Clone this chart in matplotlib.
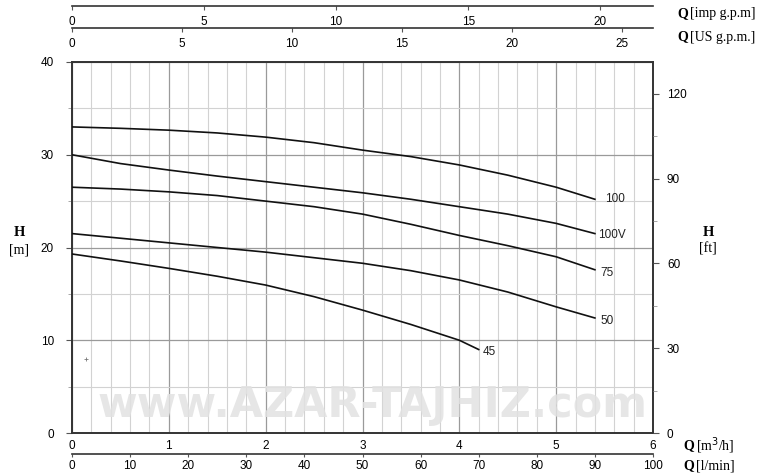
import numpy as np
import matplotlib.pyplot as plt
from matplotlib.ticker import MultipleLocator

plt.rcParams['font.family'] = ['Liberation Sans', 'DejaVu Sans']
plt.rcParams['font.size'] = 8.5

# Pump curves: flow Q [m3/h] vs head H [m]
q_std = [0, 0.5, 1, 1.5, 2, 2.5, 3, 3.5, 4, 4.5, 5, 5.4]
h_100 = [33.0, 32.85, 32.65, 32.35, 31.9, 31.3, 30.5, 29.8, 28.9, 27.8, 26.5, 25.2]
h_100v = [30.0, 29.05, 28.35, 27.7, 27.1, 26.5, 25.9, 25.2, 24.4, 23.6, 22.6, 21.5]
h_75 = [26.5, 26.3, 26.0, 25.6, 25.0, 24.4, 23.6, 22.5, 21.3, 20.2, 19.0, 17.6]
h_50 = [21.5, 21.0, 20.5, 20.0, 19.5, 18.9, 18.3, 17.5, 16.5, 15.2, 13.6, 12.4]
q_45 = [0, 0.5, 1, 1.5, 2, 2.5, 3, 3.5, 4, 4.2]
h_45 = [19.3, 18.55, 17.75, 16.9, 15.95, 14.7, 13.25, 11.7, 10.0, 9.0]

curves = [
    ('100', q_std, h_100, (7, 0)),
    ('100V', q_std, h_100v, (2, -1)),
    ('75', q_std, h_75, (4, -2)),
    ('50', q_std, h_50, (4, -2)),
    ('45', q_45, h_45, (3, -2)),
]

# unit conversion factors from m3/h
IMP_GPM = 1000 / 4.54609 / 60
US_GPM = 1000 / 3.78541 / 60
L_MIN = 1000 / 60
FT = 1 / 0.3048

W, H = 771, 474
fig = plt.figure(figsize=(W / 100, H / 100), dpi=100)

def fx(px):
    return px / W

def fy(py):
    return 1 - py / H

left, right, top, bottom = 72, 653, 62, 433
ax = fig.add_axes([fx(left), fy(bottom), fx(right - left), fy(top) - fy(bottom)])
ax.set_xlim(0, 6)
ax.set_ylim(0, 40)

# grid
ax.xaxis.set_major_locator(MultipleLocator(1))
ax.xaxis.set_minor_locator(MultipleLocator(0.2))
ax.yaxis.set_major_locator(MultipleLocator(10))
ax.yaxis.set_minor_locator(MultipleLocator(5))
ax.grid(which='minor', color='#d2d2d2', lw=0.8)
ax.grid(which='major', color='#9a9a9a', lw=0.9)
ax.set_axisbelow(True)
for s in ax.spines.values():
    s.set_color('#333333')
    s.set_linewidth(1.4)
ax.tick_params(axis='x', which='both', length=0, pad=5)
ax.tick_params(axis='y', which='major', length=4, color='#555555', pad=9)
ax.tick_params(axis='y', which='minor', length=3, color='#999999')
ax.set_xticks(range(0, 7))

# watermark
ax.text(3.1, 3.0, 'www.AZAR-TAJHIZ.com', fontsize=31, fontweight='bold',
        color='#e2e2e2', alpha=0.85, ha='center', va='center', zorder=1,
        family='DejaVu Sans')

for name, q, h, off in curves:
    ax.plot(q, h, color='#111111', lw=1.2, zorder=3)
    ax.annotate(name, (q[-1], h[-1]), xytext=off, textcoords='offset points',
                ha='left', va='center', fontsize=8.5, color='#222222')

ax.plot([0.14], [8.0], marker='+', color='#777777', ms=3, mew=0.6)

# right feet axis
axr = ax.twinx()
axr.set_ylim(0, 40 * FT)
axr.yaxis.set_major_locator(MultipleLocator(30))
axr.yaxis.set_minor_locator(MultipleLocator(15))
axr.tick_params(axis='y', which='major', length=4, color='#555555', pad=6)
axr.tick_params(axis='y', which='minor', length=3, color='#999999')
for s in axr.spines.values():
    s.set_visible(False)

# extra scale axes (lines with ticks only)
def scale_axis(py, factor, ticks, tick_len, label_pad):
    a = fig.add_axes([fx(left), fy(py), fx(right - left), 0.0001])
    a.set_xlim(0, 6 * factor)
    a.set_xticks(ticks)
    a.set_yticks([])
    for k in ('top', 'left', 'right'):
        a.spines[k].set_visible(False)
    a.spines['bottom'].set_color('#333333')
    a.spines['bottom'].set_linewidth(1.2)
    a.tick_params(axis='x', length=tick_len, width=0.8, color='#555555', pad=label_pad)
    a.patch.set_visible(False)
    return a

scale_axis(6, IMP_GPM, [0, 5, 10, 15, 20], 3, 4)
scale_axis(28, US_GPM, [0, 5, 10, 15, 20, 25], 3, 4)
scale_axis(454, L_MIN, list(range(0, 101, 10)), 2, 2)

# unit labels
serif = ['Liberation Serif', 'DejaVu Serif']
def unit(x, y, q, rest, size=10):
    fig.text(fx(x), fy(y), q, fontsize=size, fontweight='bold', family=serif,
             ha='left', va='center')
    fig.text(fx(x + 13), fy(y), rest, fontsize=size, family=serif,
             ha='left', va='center')

unit(677, 14, 'Q', '[imp g.p.m]')
unit(677, 37, 'Q', '[US g.p.m.]')
unit(683, 446, 'Q', '[m$^3$/h]')
unit(683, 466, 'Q', '[l/min]')

fig.text(fx(19), fy(233), 'H', fontsize=10.5, fontweight='bold', family=serif,
         ha='center', va='center')
fig.text(fx(19), fy(250), '[m]', fontsize=10, family=serif, ha='center', va='center')
fig.text(fx(708), fy(232), 'H', fontsize=10.5, fontweight='bold', family=serif,
         ha='center', va='center')
fig.text(fx(708), fy(249), '[ft]', fontsize=10, family=serif, ha='center', va='center')

fig.savefig('out.png', dpi=100)
